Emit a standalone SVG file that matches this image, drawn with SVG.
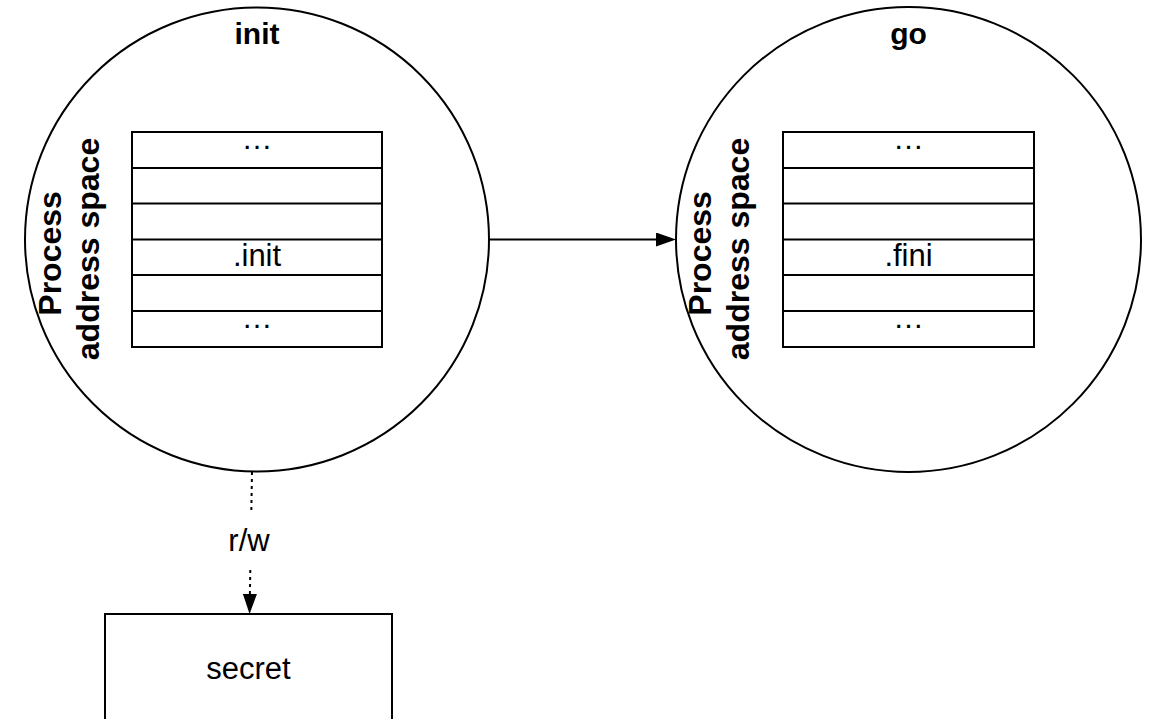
<svg xmlns="http://www.w3.org/2000/svg" width="1153" height="719" viewBox="0 0 1153 719">
  <style>
    .shape { fill: #ffffff; stroke: #000000; stroke-width: 2; }
    .ring { fill: #ffffff; stroke: #000000; stroke-width: 2; }
    .row { fill: none; stroke: #000000; stroke-width: 2; }
    .title { font-family: "Liberation Sans", Arial, Helvetica, sans-serif; font-size: 30px; font-weight: bold; fill: #000000; text-anchor: middle; }
    .side { font-family: "Liberation Sans", Arial, Helvetica, sans-serif; font-size: 32px; font-weight: bold; fill: #000000; text-anchor: middle; }
    .label { font-family: "Liberation Sans", Arial, Helvetica, sans-serif; font-size: 31px; fill: #000000; text-anchor: middle; }
    .edge { fill: none; stroke: #000000; stroke-width: 2; }
    .dotted { stroke-dasharray: 3 4; }
  </style>
  <defs>
    <marker id="arrow" markerUnits="userSpaceOnUse" markerWidth="20" markerHeight="14" refX="0" refY="7" orient="auto" viewBox="0 0 20 14">
      <path d="M0,0 L20,7 L0,14 Z" fill="#000000"/>
    </marker>
  </defs>

  <!-- process "init" -->
  <g id="node-init">
    <circle class="ring" cx="257" cy="239.5" r="232"/>
    <text class="title" x="257" y="44">init</text>
    <rect class="shape" x="132" y="132" width="250" height="215"/>
    <path class="row" d="M132,168 H382 M132,203.5 H382 M132,239.5 H382 M132,275 H382 M132,311 H382"/>
    <text class="label" x="257" y="149">…</text>
    <text class="label" x="257" y="266">.init</text>
    <text class="label" x="257" y="328">…</text>
    <text class="side" transform="translate(0 249) rotate(-90)">
      <tspan x="0" y="61">Process</tspan>
      <tspan x="0" y="99">address space</tspan>
    </text>
  </g>

  <!-- process "go" -->
  <g id="node-go">
    <circle class="ring" cx="908.5" cy="239.5" r="232.5"/>
    <text class="title" x="908.5" y="44">go</text>
    <rect class="shape" x="783" y="132" width="251" height="215"/>
    <path class="row" d="M783,168 H1034 M783,203.5 H1034 M783,239.5 H1034 M783,275 H1034 M783,311 H1034"/>
    <text class="label" x="908.5" y="149">…</text>
    <text class="label" x="908.5" y="266">.fini</text>
    <text class="label" x="908.5" y="328">…</text>
    <text class="side" transform="translate(650 249) rotate(-90)">
      <tspan x="0" y="61">Process</tspan>
      <tspan x="0" y="99">address space</tspan>
    </text>
  </g>

  <!-- secret store -->
  <g id="node-secret">
    <rect class="shape" x="105" y="614" width="287" height="120"/>
    <text class="label" x="248.5" y="679">secret</text>
  </g>

  <!-- connectors -->
  <g id="connectors">
    <path class="edge" d="M489,239.5 H656" marker-end="url(#arrow)"/>
    <path class="edge dotted" d="M252,472 L251.3,513"/>
    <path class="edge dotted" d="M250.3,570 L249.9,594" marker-end="url(#arrow)"/>
    <text class="label" x="249" y="551">r/w</text>
  </g>
</svg>
